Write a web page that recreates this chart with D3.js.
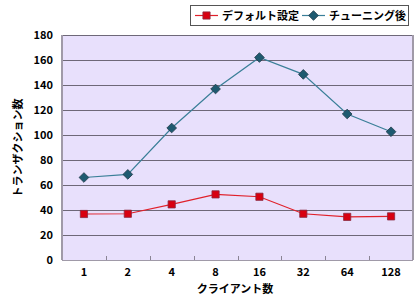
<!DOCTYPE html>
<html>
<head>
<meta charset="utf-8">
<script src="https://cdn.jsdelivr.net/npm/d3@7/dist/d3.min.js"></script>
<style>
  body { margin: 0; background: #fff; }
  text { font-family: "Noto Sans CJK JP", "Liberation Sans", sans-serif; }
</style>
</head>
<body>
<div id="chart"></div>
<script>
var clients = ["1", "2", "4", "8", "16", "32", "64", "128"];
var defaultVals = [36.8, 37, 44.5, 52.5, 50.6, 37, 34.5, 34.9];
var tunedVals = [66, 68.5, 105.6, 136.8, 162, 148.5, 116.8, 102.6];
var yTicks = [0, 20, 40, 60, 80, 100, 120, 140, 160, 180];

var width = 420, height = 300;
var margin = {top: 35, right: 7, bottom: 40, left: 62};

var svg = d3.select("#chart")
        .append("svg")
        .attr("width", width)
        .attr("height", height);

var x = d3.scaleBand()
        .domain(clients)
        .range([margin.left, width - margin.right]);

var y = d3.scaleLinear()
        .domain([0, 180])
        .range([height - margin.bottom, margin.top]);

// plot area
svg.append("rect")
        .attr("x", margin.left)
        .attr("y", margin.top)
        .attr("width", width - margin.left - margin.right)
        .attr("height", height - margin.top - margin.bottom)
        .attr("fill", "#e8e0fc");

// gridlines
svg.append("g")
        .selectAll("line")
        .data(yTicks.filter(function (d) { return d > 0; }))
        .enter()
        .append("line")
        .attr("x1", margin.left)
        .attr("x2", width - margin.right)
        .attr("y1", function (d) { return y(d) + 0.5; })
        .attr("y2", function (d) { return y(d) + 0.5; })
        .attr("stroke", "#6e6878")
        .attr("stroke-width", 1);

// frame
svg.append("line")
        .attr("x1", margin.left).attr("x2", margin.left)
        .attr("y1", margin.top).attr("y2", height - margin.bottom)
        .attr("stroke", "#a09aa8").attr("stroke-width", 2);
svg.append("line")
        .attr("x1", width - margin.right).attr("x2", width - margin.right)
        .attr("y1", margin.top).attr("y2", height - margin.bottom)
        .attr("stroke", "#a09aa8").attr("stroke-width", 2);
svg.append("line")
        .attr("x1", margin.left).attr("x2", width - margin.right)
        .attr("y1", height - margin.bottom + 0.5).attr("y2", height - margin.bottom + 0.5)
        .attr("stroke", "#a09aa8").attr("stroke-width", 1);

// x ticks between categories
svg.append("g")
        .selectAll("line")
        .data(clients.slice(1))
        .enter()
        .append("line")
        .attr("x1", function (d) { return Math.round(x(d)) + 0.5; })
        .attr("x2", function (d) { return Math.round(x(d)) + 0.5; })
        .attr("y1", height - margin.bottom - 4)
        .attr("y2", height - margin.bottom)
        .attr("stroke", "#8a8494");

// x axis labels
var xAxis = svg.append("g")
        .attr("transform", "translate(0," + (height - margin.bottom) + ")")
        .call(d3.axisBottom(x).tickSize(0).tickPadding(8));
xAxis.select(".domain").remove();
xAxis.selectAll("text")
        .attr("font-family", "Liberation Sans, Arial, sans-serif")
        .attr("font-weight", "bold")
        .attr("font-size", "11px")
        .attr("fill", "#000");

// y axis labels
var yAxis = svg.append("g")
        .attr("transform", "translate(" + (margin.left - 9) + ",0)")
        .call(d3.axisLeft(y).tickValues(yTicks).tickSize(0).tickPadding(0));
yAxis.select(".domain").remove();
yAxis.selectAll("text")
        .attr("font-family", "Liberation Sans, Arial, sans-serif")
        .attr("font-weight", "bold")
        .attr("font-size", "11px")
        .attr("fill", "#000");

// axis titles
svg.append("text")
        .text("クライアント数")
        .attr("x", 235)
        .attr("y", 293)
        .attr("text-anchor", "middle")
        .attr("font-size", "11px")
        .attr("font-weight", "bold");

svg.append("text")
        .text("トランザクション数")
        .attr("transform", "translate(22,148) rotate(-90)")
        .attr("text-anchor", "middle")
        .attr("font-size", "11px")
        .attr("font-weight", "bold");

// series
var cx = function (d, i) { return x(clients[i]) + x.bandwidth() / 2; };

var line = d3.line()
        .x(function (d, i) { return cx(d, i); })
        .y(function (d) { return y(d); });

svg.append("path")
        .datum(defaultVals)
        .attr("d", line)
        .attr("fill", "none")
        .attr("stroke", "#e0202a")
        .attr("stroke-width", 1.2);

svg.append("path")
        .datum(tunedVals)
        .attr("d", line)
        .attr("fill", "none")
        .attr("stroke", "#3a7f98")
        .attr("stroke-width", 1.2);

var square = d3.symbol().type(d3.symbolSquare).size(52);
var diamond = d3.symbol().type(d3.symbolDiamond2).size(60);

svg.append("g")
        .selectAll("path")
        .data(defaultVals)
        .enter()
        .append("path")
        .attr("d", square)
        .attr("transform", function (d, i) { return "translate(" + cx(d, i) + "," + y(d) + ")"; })
        .attr("fill", "#d80010")
        .attr("stroke", "#8a2a40")
        .attr("stroke-width", 0.8);

svg.append("g")
        .selectAll("path")
        .data(tunedVals)
        .enter()
        .append("path")
        .attr("d", diamond)
        .attr("transform", function (d, i) { return "translate(" + cx(d, i) + "," + y(d) + ")"; })
        .attr("fill", "#1e5a70")
        .attr("stroke", "#203848")
        .attr("stroke-width", 0.8);

// legend
var legend = svg.append("g");
legend.append("rect")
        .attr("x", 190.5).attr("y", 5.5)
        .attr("width", 218).attr("height", 20)
        .attr("fill", "#fff")
        .attr("stroke", "#555");

legend.append("line")
        .attr("x1", 195).attr("x2", 218).attr("y1", 15.5).attr("y2", 15.5)
        .attr("stroke", "#e0202a").attr("stroke-width", 1.2);
legend.append("path")
        .attr("d", square)
        .attr("transform", "translate(206.5,15.5)")
        .attr("fill", "#d80010").attr("stroke", "#8a2a40").attr("stroke-width", 0.8);
legend.append("text")
        .text("デフォルト設定")
        .attr("x", 222).attr("y", 19.5)
        .attr("font-size", "11px").attr("font-weight", "bold");

legend.append("line")
        .attr("x1", 302).attr("x2", 325).attr("y1", 15.5).attr("y2", 15.5)
        .attr("stroke", "#3a7f98").attr("stroke-width", 1.2);
legend.append("path")
        .attr("d", diamond)
        .attr("transform", "translate(313.5,15.5)")
        .attr("fill", "#1e5a70").attr("stroke", "#203848").attr("stroke-width", 0.8);
legend.append("text")
        .text("チューニング後")
        .attr("x", 329).attr("y", 19.5)
        .attr("font-size", "11px").attr("font-weight", "bold");
</script>
</body>
</html>
